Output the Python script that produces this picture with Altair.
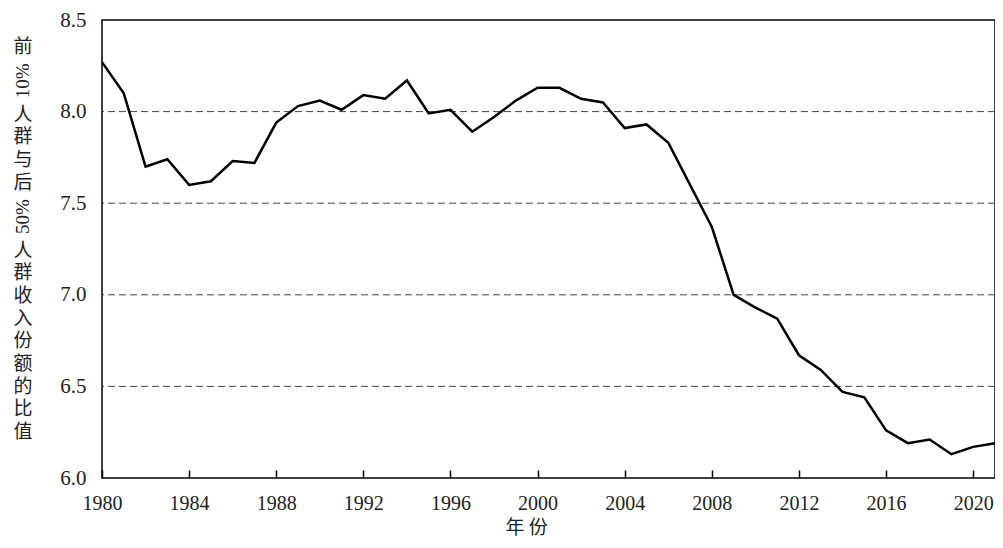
import altair as alt
import pandas as pd

# ---- data ----
years = list(range(1980, 2022))
ratio = [8.27, 8.10, 7.70, 7.74, 7.60, 7.62, 7.73, 7.72, 7.94, 8.03,
         8.06, 8.01, 8.09, 8.07, 8.17, 7.99, 8.01, 7.89, 7.97, 8.06,
         8.13, 8.13, 8.07, 8.05, 7.91, 7.93, 7.83, 7.60, 7.37, 7.00,
         6.93, 6.87, 6.67, 6.59, 6.47, 6.44, 6.26, 6.19, 6.21, 6.13,
         6.17, 6.19]
grid_values = [6.5, 7.0, 7.5, 8.0]
y_ticks = [6.0, 6.5, 7.0, 7.5, 8.0, 8.5]
x_ticks = list(range(1980, 2021, 4))

y_title_parts = ["前", "10%", "人", "群", "与", "后", "50%", "人", "群",
                 "收", "入", "份", "额", "的", "比", "值"]
x_title = "年  份"

FONT = "Liberation Serif, Noto Sans CJK SC, serif"
W, H = 893, 458

df = pd.DataFrame({"year": years, "ratio": ratio})
gdf = pd.DataFrame({"g": grid_values})

# vertical title layout (upright CJK chars, rotated number segments)
char_pitch = 22.7
seg_len = 45.0
rows = []
pos = 27.0
prev_len = None
for p in y_title_parts:
    rot = not all("\u4e00" <= ch <= "\u9fff" for ch in p)
    L = seg_len if rot else char_pitch
    if prev_len is not None:
        pos += prev_len / 2 + L / 2
    rows.append({"t": p, "ty": pos, "ang": 270 if rot else 0})
    prev_len = L
tdf = pd.DataFrame(rows)

xscale = alt.Scale(domain=[1980, 2021], nice=False, zero=False)
yscale = alt.Scale(domain=[6.0, 8.5], nice=False, zero=False)

yaxis = alt.Axis(values=y_ticks, format=".1f", ticks=False,
                 tickSize=0, domain=False, grid=False,
                 labelFont=FONT, labelFontSize=21,
                 labelColor="#222", labelPadding=16,
                 labelFlush=False, labelOverlap=False, title=None)

grid = alt.Chart(gdf).mark_rule(
    color="#444", strokeWidth=1, strokeDash=[7, 4]
).encode(y=alt.Y("g:Q", scale=yscale, axis=yaxis))

line = alt.Chart(df).mark_line(color="black", strokeWidth=2.5).encode(
    x=alt.X("year:Q", scale=xscale,
            axis=alt.Axis(values=x_ticks, format="d", offset=-8, tickSize=8,
                          tickColor="black", tickWidth=1.5, domain=False,
                          grid=False, labelFont=FONT, labelFontSize=20,
                          labelColor="#222", labelPadding=15,
                          labelFlush=False, labelOverlap=False,
                          title=x_title, titleFont="Noto Sans CJK SC",
                          titleFontSize=19, titleFontWeight="normal",
                          titleColor="#222", titleX=424, titleY=57,
                          titleBaseline="middle", titleAlign="center")),
    y=alt.Y("ratio:Q", scale=yscale, axis=yaxis),
)

ytitle = alt.Chart(tdf).mark_text(
    font=FONT, fontSize=19, color="#222", align="center", baseline="middle"
).encode(
    x=alt.value(-79),
    y=alt.Y("ty:Q", scale=None),
    text="t:N",
    angle=alt.Angle("ang:Q", scale=None),
)

chart = alt.layer(grid, line, ytitle).properties(
    width=W, height=H,
    background="white",
    autosize=alt.AutoSizeParams(type="none"),
    padding={"left": 94, "top": 12, "right": 0, "bottom": 62},
).configure_view(stroke="black", strokeWidth=1.5)

chart.save("out.html", embed_options={"renderer": "svg", "actions": False})
